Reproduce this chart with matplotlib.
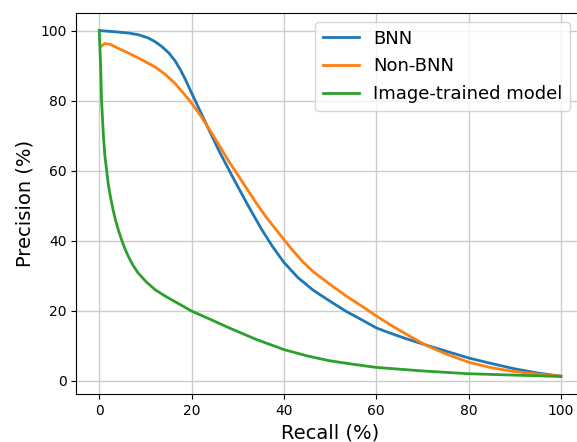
import matplotlib
matplotlib.use("Agg")
import matplotlib.pyplot as plt

# BNN precision-recall curve
bnn_recall = [0, 3, 6.3, 8.5, 10.6, 12, 13.5, 15, 16.4, 17.5, 18.6, 20, 21.5, 23, 24,
              26, 29.3, 32, 35.1, 37.5, 40, 43, 46.3, 50, 53.5, 57, 60, 63, 66.5,
              70.5, 75, 80, 85, 90, 95, 100]
bnn_precision = [100, 99.7, 99.3, 98.8, 97.9, 96.9, 95.5, 93.7, 91.4, 89.0, 86.2, 82.2,
                 78.0, 73.8, 71.0, 65.5, 57.2, 50.6, 43.4, 38.4, 33.8, 29.5, 25.9, 22.7,
                 19.8, 17.3, 15.1, 13.6, 12, 10.3, 8.5, 6.5, 4.9, 3.4, 2.2, 1.3]

# Non-BNN curve
nonbnn_recall = [0.4, 1.2, 2.5, 4, 6.3, 9, 12.1, 14.3, 16.4, 18, 20, 22, 23.9, 26, 28,
                 29.4, 31.1, 34, 36, 38.4, 40, 42, 44, 46.3, 50, 53.5, 57, 60, 63, 66.5,
                 70.5, 75, 80, 85, 90, 95, 100]
nonbnn_precision = [95.5, 96.3, 96.0, 95.0, 93.6, 91.8, 89.6, 87.5, 84.9, 82.5, 79.3,
                    75.6, 71.7, 67.2, 62.8, 60, 56.6, 50.8, 47, 43, 40.3, 37.1, 34.1,
                    31.2, 27.5, 24.2, 21.2, 18.5, 16, 13.3, 10.3, 7.7, 5.3, 3.7, 2.6,
                    1.9, 1.3]

# Image-trained model curve
img_recall = [0, 0.3, 0.5, 0.9, 1.2, 1.6, 2, 2.5, 3, 3.5, 4.2, 4.9, 5.6, 6.3, 7.3,
              8.4, 10.2, 12.1, 14, 15.7, 18, 20, 23.6, 28.3, 34, 40, 45, 49.9, 55, 60,
              70, 80, 90, 100]
img_precision = [100, 90, 80, 70, 64.5, 60, 55.8, 52, 48.8, 46, 42.8, 40, 37.6, 35.5,
                 33, 30.8, 28.2, 26, 24.4, 23.1, 21.4, 19.9, 17.8, 15, 11.8, 8.9, 7.1,
                 5.7, 4.7, 3.8, 2.8, 2.0, 1.6, 1.2]

fig = plt.figure(figsize=(5.77, 4.42), dpi=100)
ax = fig.add_axes([0.132, 0.109, 0.880, 0.861])

ax.plot(bnn_recall, bnn_precision, linewidth=2, label='BNN')
ax.plot(nonbnn_recall, nonbnn_precision, linewidth=2, label='Non-BNN')
ax.plot(img_recall, img_precision, linewidth=2, label='Image-trained model')

ax.set_xlim(-5, 105)
ax.set_ylim(-3.74, 104.94)
ax.set_xticks([0, 20, 40, 60, 80, 100])
ax.set_yticks([0, 20, 40, 60, 80, 100])
ax.grid(True, color='#cccccc', linewidth=1)
ax.set_xlabel('Recall (%)', fontsize=14)
ax.set_ylabel('Precision (%)', fontsize=14)
ax.tick_params(labelsize=10)
ax.legend(loc='upper right', fontsize=13, bbox_to_anchor=(0.99, 1.0),
          labelspacing=0.55)

fig.savefig('out.png', dpi=100)
